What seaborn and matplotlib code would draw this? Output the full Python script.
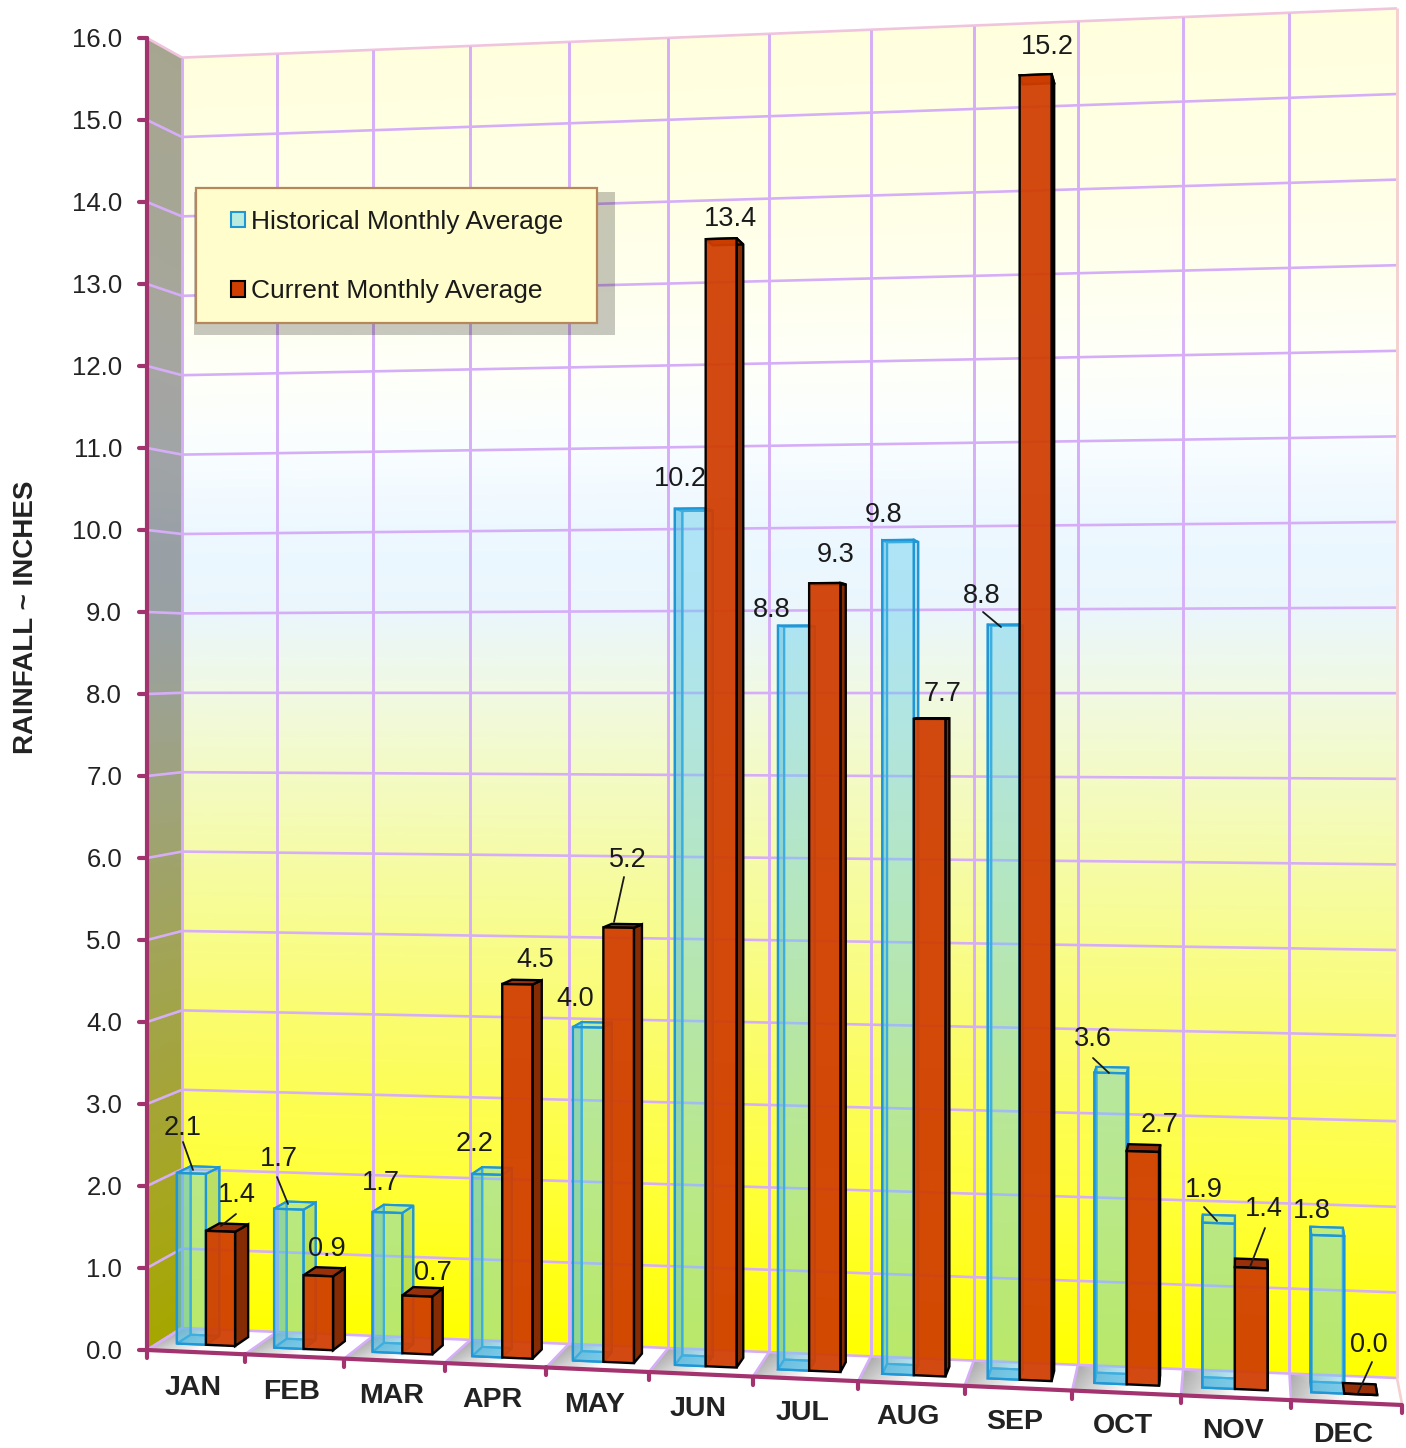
import numpy as np
import pandas as pd
import matplotlib
matplotlib.use("Agg")
import matplotlib.pyplot as plt
import seaborn as sns
from matplotlib.colors import LinearSegmentedColormap, to_rgba
from matplotlib.patches import Patch, Polygon, Rectangle
from matplotlib.transforms import Affine2D, Transform

# ---------------------------------------------------------------------------
# Data
# ---------------------------------------------------------------------------
months = ["JAN", "FEB", "MAR", "APR", "MAY", "JUN", "JUL", "AUG", "SEP", "OCT", "NOV", "DEC"]
historical = [2.1, 1.7, 1.7, 2.2, 4.0, 10.2, 8.8, 9.8, 8.8, 3.6, 1.9, 1.8]
current = [1.4, 0.9, 0.7, 4.5, 5.2, 13.4, 9.3, 7.7, 15.2, 2.7, 1.4, 0.0]
series_names = ["Historical Monthly Average", "Current Monthly Average"]
y_ticks = list(range(0, 17))

# ---------------------------------------------------------------------------
# Style
# ---------------------------------------------------------------------------
WIDTH, HEIGHT = 1406, 1448
BAR_SHIFT = 0.49
DEPTH_FRONT, DEPTH_BACK = 0.33, 0.73
BLUE, BLUE_EDGE, RED = "#64cdeb", "#1f96d6", "#d03e02"
GRID = "#d6aef8"
AXIS = "#a3336f"

wall_stops = [
    (0.0, (255, 255, 0)),
    (1.0, (255, 255, 28)),
    (2.0, (255, 255, 58)),
    (3.0, (252, 253, 85)),
    (4.0, (250, 252, 112)),
    (5.0, (248, 252, 140)),
    (6.0, (245, 251, 168)),
    (7.0, (243, 250, 197)),
    (8.0, (240, 249, 226)),
    (9.0, (234, 246, 252)),
    (10.0, (236, 247, 255)),
    (11.0, (248, 253, 255)),
    (12.0, (254, 255, 248)),
    (13.0, (255, 255, 238)),
    (14.0, (255, 255, 230)),
    (16.0, (255, 255, 222)),
]

# pixel position of the printed value labels, (x, y) centre
hist_label_xy = [(183, 1128), (279, 1159), (381, 1183), (475, 1144), (575, 999), (680, 479),
                 (772, 610), (884, 515), (982, 596), (1093, 1039), (1204, 1190), (1312, 1211)]
curr_label_xy = [(237, 1195), (327, 1249), (433, 1273), (535, 960), (628, 860), (730, 219),
                 (836, 555), (943, 694), (1047, 47), (1160, 1125), (1264, 1209), (1369, 1345)]
leaders = [((183, 1142), (193, 1170)), ((236, 1214), (221, 1226)), ((277, 1177), (288, 1204)),
           ((624, 877), (614, 922)), ((983, 612), (1001, 627)), ((1093, 1058), (1109, 1073)),
           ((1204, 1207), (1217, 1221)), ((1265, 1228), (1250, 1267)), ((1372, 1362), (1358, 1393))]


# ---------------------------------------------------------------------------
# Perspective box: u = month position, v = inches, w = depth (0 front, 1 back)
# ---------------------------------------------------------------------------
def project(u, v, w):
    u, v, w = np.asarray(u, float), np.asarray(v, float), np.asarray(w, float)
    x_front = 147 + 97.4 * u + 0.6 * u**2
    x_back = 182 + 94.43 * u + 0.568 * u**2
    x = (1 - w) * x_front + w * x_back
    t = (x - (147 + 35 * w)) / (1255 - 40 * w)
    base = (1350 - 22 * w) + (55 - 5 * w) * t
    scale = (82 - 2.6 * w) + (7 - 0.8 * w) * t
    return x, base - v * scale


class Box(Transform):
    """Maps a 2D plane of the box to image pixels."""
    input_dims = output_dims = 2
    is_affine = False
    has_inverse = False

    def __init__(self, plane="wall", w=1.0, shift=0.0):
        super().__init__()
        self.plane, self.w, self.shift = plane, w, shift

    def transform_non_affine(self, values):
        a, b = np.asarray(values, float).T
        if self.plane == "floor":
            x, y = project(a, 0 * a, b)
        elif self.plane == "side":
            x, y = project(0 * a, b, a)
        else:
            x, y = project(a + self.shift, b, self.w + 0 * a)
        return np.column_stack([x, y])


sns.set_theme(style="white")
plt.rcParams["font.family"] = ["Liberation Sans", "DejaVu Sans"]

fig = plt.figure(figsize=(WIDTH / 100, HEIGHT / 100), dpi=100, facecolor="white")
ax = fig.add_axes([0, 0, 1, 1])
pix = Affine2D().scale(1, -1).translate(0, HEIGHT)


def face(us, vs, ws, **kw):
    x, y = project(us, vs, ws)
    ax.add_patch(Polygon(np.column_stack([x, y]), closed=True, transform=pix, **kw))


def line(us, vs, ws, **kw):
    x, y = project(us, vs, ws)
    ax.plot(x, y, transform=pix, scalex=False, scaley=False, solid_capstyle="butt", **kw)


# ---------------------------------------------------------------------------
# Walls and floor
# ---------------------------------------------------------------------------
wall_cmap = LinearSegmentedColormap.from_list(
    "wall", [(p / 16, tuple(c / 255 for c in col)) for p, col in wall_stops])
side_cmap = LinearSegmentedColormap.from_list(
    "side", [(p / 16, tuple(0.65 * c / 255 for c in col)) for p, col in wall_stops])

U, V = np.meshgrid(np.linspace(0, 12, 25), np.linspace(0, 16, 161))
ax.pcolormesh(U, V, V, cmap=wall_cmap, vmin=0, vmax=16, shading="gouraud",
              transform=Box("wall", 1.0) + pix, zorder=0)
W, V = np.meshgrid([0, 1], np.linspace(0, 16, 161))
ax.pcolormesh(W, V, V, cmap=side_cmap, vmin=0, vmax=16, shading="gouraud",
              transform=Box("side") + pix, zorder=0)
for i in range(12):
    U, W = np.meshgrid([i, i + 0.5, i + 1], [0, 1])
    shade = np.array([[0.74, 1, 1], [0.66, 1, 1]])
    ax.pcolormesh(U, W, shade, cmap="gray", vmin=0, vmax=1, shading="gouraud",
                  transform=Box("floor") + pix, zorder=0)

# grid lines on the three planes
for v in y_ticks:
    edge = "#f0c4dc" if v == 16 else GRID
    line([0, 12], [v, v], [1, 1], color=edge, lw=1.9, zorder=1)
    line([0, 0], [v, v], [0, 1], color=edge, lw=1.9, zorder=1)
for u in range(13):
    edge = "#f6cfd0" if u == 12 else GRID
    line([u, u], [0, 16], [1, 1], color=edge, lw=2.1, zorder=1)
    line([u, u], [0, 0], [0, 1], color=edge, lw=1.9, zorder=1)

# ---------------------------------------------------------------------------
# Bars
# ---------------------------------------------------------------------------
df = pd.DataFrame({"month": months, series_names[0]: historical, series_names[1]: current})
df = df.melt(id_vars="month", var_name="series", value_name="inches")
sns.barplot(data=df, x="month", y="inches", hue="series", order=months, hue_order=series_names,
            palette=[BLUE, RED], width=0.6, gap=0, saturation=1, legend=False, ax=ax)

front_tf = Box("wall", DEPTH_FRONT, BAR_SHIFT) + pix
d0, d1 = DEPTH_FRONT, DEPTH_BACK

for i, rect in enumerate(ax.containers[0]):
    u0 = rect.get_x() + BAR_SHIFT
    u1 = u0 + rect.get_width()
    h = rect.get_height()
    z = 2 + i * 0.1
    fill = to_rgba(BLUE_EDGE, 0.3)
    # back outline and the faint side, top and floor panels
    face([u0, u1, u1, u0], [0, 0, h, h], [d1] * 4, fc="none", ec=BLUE_EDGE, lw=1.5, zorder=z)
    face([u0, u1, u1, u0], [0, 0, 0, 0], [d0, d0, d1, d1], fc=to_rgba(BLUE_EDGE, 0.5),
         ec=BLUE_EDGE, lw=1.5, zorder=z)
    face([u1, u1, u1, u1], [0, 0, h, h], [d0, d1, d1, d0], fc=fill, ec=BLUE_EDGE, lw=1.5, zorder=z)
    face([u0, u0, u0, u0], [0, 0, h, h], [d0, d1, d1, d0], fc=fill, ec=BLUE_EDGE, lw=1.5, zorder=z)
    face([u0, u1, u1, u0], [h, h, h, h], [d0, d0, d1, d1], fc=to_rgba(BLUE, 0.4),
         ec=BLUE_EDGE, lw=1.5, zorder=z)
    rect.set_transform(front_tf)
    rect.set_facecolor(to_rgba(BLUE, 0.45))
    rect.set_edgecolor(BLUE_EDGE)
    rect.set_linewidth(1.7)
    rect.set_zorder(z + 0.01)

for i, rect in enumerate(ax.containers[1]):
    u0 = rect.get_x() + BAR_SHIFT
    u1 = u0 + rect.get_width()
    h = rect.get_height()
    z = 2.02 + i * 0.1
    face([u1, u1, u1, u1], [0, 0, h, h], [d0, d1, d1, d0], fc="#862c04", ec="black", lw=1.7, zorder=z)
    face([u0, u1, u1, u0], [h, h, h, h], [d0, d0, d1, d1], fc="#98300a", ec="black", lw=1.7, zorder=z)
    rect.set_transform(front_tf)
    rect.set_facecolor(to_rgba(RED, 0.94))
    rect.set_edgecolor("black")
    rect.set_linewidth(1.7)
    rect.set_zorder(z + 0.01)

# ---------------------------------------------------------------------------
# Axes lines, ticks and labels
# ---------------------------------------------------------------------------
x_left, y_top = project(0, 16, 0)
x_left, y_zero = project(0, 0, 0)
ax.plot([x_left, x_left], [y_top, y_zero], color=AXIS, lw=3, transform=pix, zorder=4,
        scalex=False, scaley=False)
for v in y_ticks:
    x, y = project(0, v, 0)
    ax.plot([x - 8, x], [y, y], color=AXIS, lw=3, transform=pix, zorder=4, scalex=False, scaley=False)
    ax.text(x - 25, y + 2, f"{v:.1f}", transform=pix, ha="right", va="center", fontsize=18.5, color="#222222")

line([0, 12], [0, 0], [0, 0], color=AXIS, lw=3, zorder=4)
for u in range(13):
    x, y = project(u, 0, 0)
    ax.plot([x, x], [y, y + 8], color=AXIS, lw=3, transform=pix, zorder=4, scalex=False, scaley=False)
for i, name in enumerate(months):
    x, y = project(i + 0.47, 0, 0)
    ax.text(x, y + 36 - 0.27 * i, name, transform=pix, ha="center", va="center", fontsize=20.5,
            fontweight="bold", color="#222222")

ax.text(26, 617, "RAINFALL ~ INCHES", transform=pix, rotation=90, ha="center", va="center",
        fontsize=20, fontweight="bold", color="#222222")

for values, positions in [(historical, hist_label_xy), (current, curr_label_xy)]:
    for val, (x, y) in zip(values, positions):
        ax.text(x, y, f"{val:.1f}", transform=pix, ha="center", va="center", fontsize=19.5,
                color="#1a1a1a", zorder=6)
for (x0, y0), (x1, y1) in leaders:
    ax.plot([x0, x1], [y0, y1], color="#1a1a1a", lw=1.3, transform=pix, zorder=6,
            scalex=False, scaley=False)

# ---------------------------------------------------------------------------
# Legend box with its flat shadow
# ---------------------------------------------------------------------------
ax.add_patch(Rectangle((194, 192), 421, 143, transform=pix, fc="black", alpha=0.22, ec="none", zorder=7))
ax.add_patch(Rectangle((196, 188), 401, 135, transform=pix, fc="#fffdcc", ec="#b5875a", lw=1.6, zorder=8))
handles = [Patch(fc="#b9ecdf", ec=BLUE_EDGE, lw=1.5, label=series_names[0]),
           Patch(fc=RED, ec="black", lw=1.5, label=series_names[1])]
leg = ax.legend(handles=handles, loc="upper left", bbox_to_anchor=(231, 210), bbox_transform=pix,
                frameon=False, borderpad=0, borderaxespad=0, fontsize=19, handlelength=0.52,
                handleheight=0.52, handletextpad=0.24, labelspacing=1.72,
                labelcolor="#1a1a1a")
leg.set_zorder(9)

ax.set_axis_off()
fig.savefig("out.png", dpi=100)
